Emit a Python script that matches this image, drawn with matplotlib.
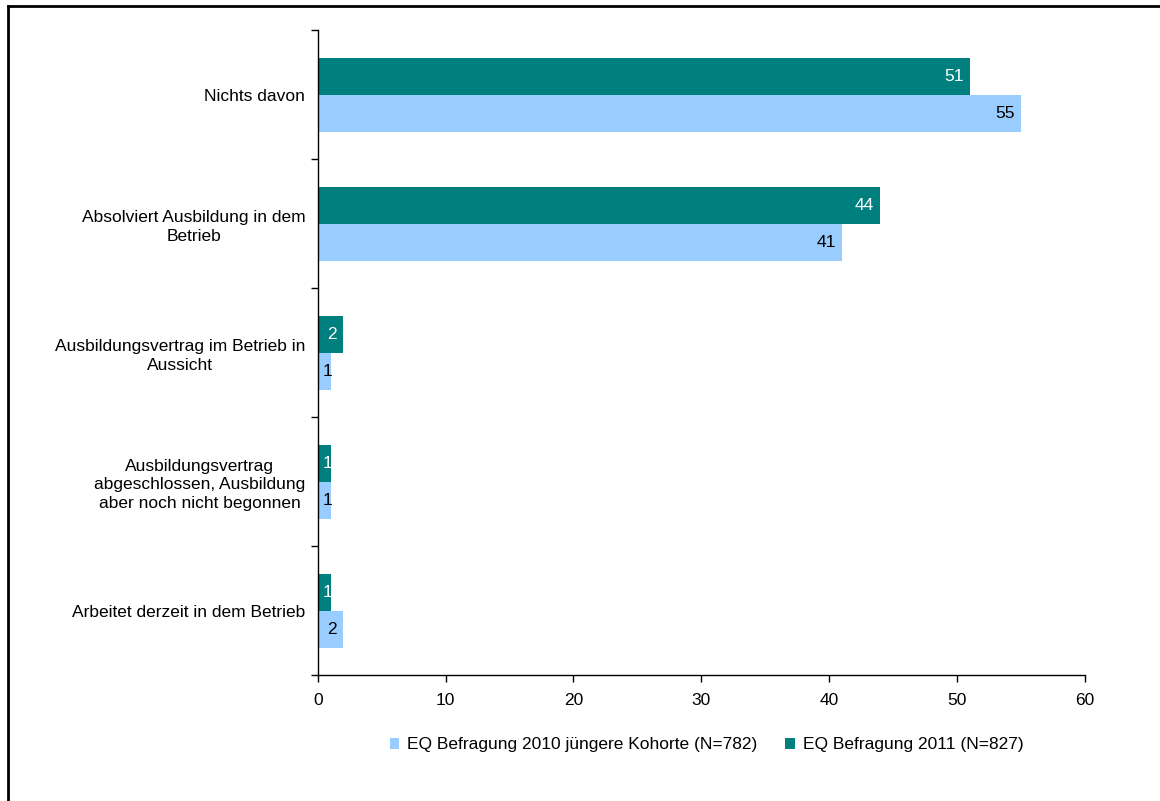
import numpy as np
import matplotlib.pyplot as plt
from matplotlib.lines import Line2D

plt.rcParams['font.family'] = ['Liberation Sans', 'DejaVu Sans']

categories = ["Nichts davon",
              "Absolviert Ausbildung in dem\nBetrieb",
              "Ausbildungsvertrag im Betrieb in\nAussicht",
              "Ausbildungsvertrag\nabgeschlossen, Ausbildung\naber noch nicht begonnen",
              "Arbeitet derzeit in dem Betrieb"]
vals_2010 = [55, 41, 1, 1, 2]
vals_2011 = [51, 44, 2, 1, 1]
label_2010 = "EQ Befragung 2010 jüngere Kohorte (N=782)"
label_2011 = "EQ Befragung 2011 (N=827)"

c_2010 = "#99ccff"
c_2011 = "#007f7f"
fs = 12.5

fig = plt.figure(figsize=(11.6, 8.01), dpi=100)
ax = fig.add_axes([0.274, 0.157, 0.661, 0.8055])

y = np.arange(len(categories))
h = 0.287
b11 = ax.barh(y - h/2, vals_2011, height=h, color=c_2011, label=label_2011)
b10 = ax.barh(y + h/2, vals_2010, height=h, color=c_2010, label=label_2010)

# value labels at inside end, pushed right when the bar is too short
def put_labels(bars, vals, col):
    for bar, v in zip(bars, vals):
        yc = bar.get_y() + bar.get_height()/2
        if v < 1.5:
            ax.annotate(str(v), (0, yc), xytext=(3.5, 0), textcoords="offset points",
                        ha="left", va="center", color=col, fontsize=fs)
        else:
            ax.annotate(str(v), (v, yc), xytext=(-4.5, 0), textcoords="offset points",
                        ha="right", va="center", color=col, fontsize=fs)

put_labels(b11, vals_2011, "white")
put_labels(b10, vals_2010, "black")

ax.set_xlim(0, 60)
ax.set_xticks(range(0, 61, 10))
ax.set_ylim(len(categories) - 0.5, -0.5)
ax.set_yticks(y)
ax.set_yticklabels(categories, multialignment="center", linespacing=1.3)
ax.set_yticks(np.arange(-0.5, len(categories)), minor=True)
ax.tick_params(axis="y", which="major", length=0, pad=9, labelsize=fs)
ax.tick_params(axis="y", which="minor", length=5, width=1, direction="out")
ax.tick_params(axis="x", length=5, width=1, direction="out", labelsize=fs, pad=8)
for s in ["top", "right"]:
    ax.spines[s].set_visible(False)
for s in ["left", "bottom"]:
    ax.spines[s].set_linewidth(1)

handles = [b10, b11]
fig.legend(handles, [label_2010, label_2011], loc="center", bbox_to_anchor=(0.609, 0.07),
           ncol=2, frameon=False, fontsize=fs, handlelength=0.55, handleheight=0.55,
           handletextpad=0.45, columnspacing=1.6)

# partial frame around the chart area (top and left edge)
fig.add_artist(Line2D([0.0066, 1.0], [0.992, 0.992], transform=fig.transFigure, color="black", lw=2))
fig.add_artist(Line2D([0.0066, 0.0066], [0.0, 0.992], transform=fig.transFigure, color="black", lw=2))

fig.savefig("out.png", dpi=100)
